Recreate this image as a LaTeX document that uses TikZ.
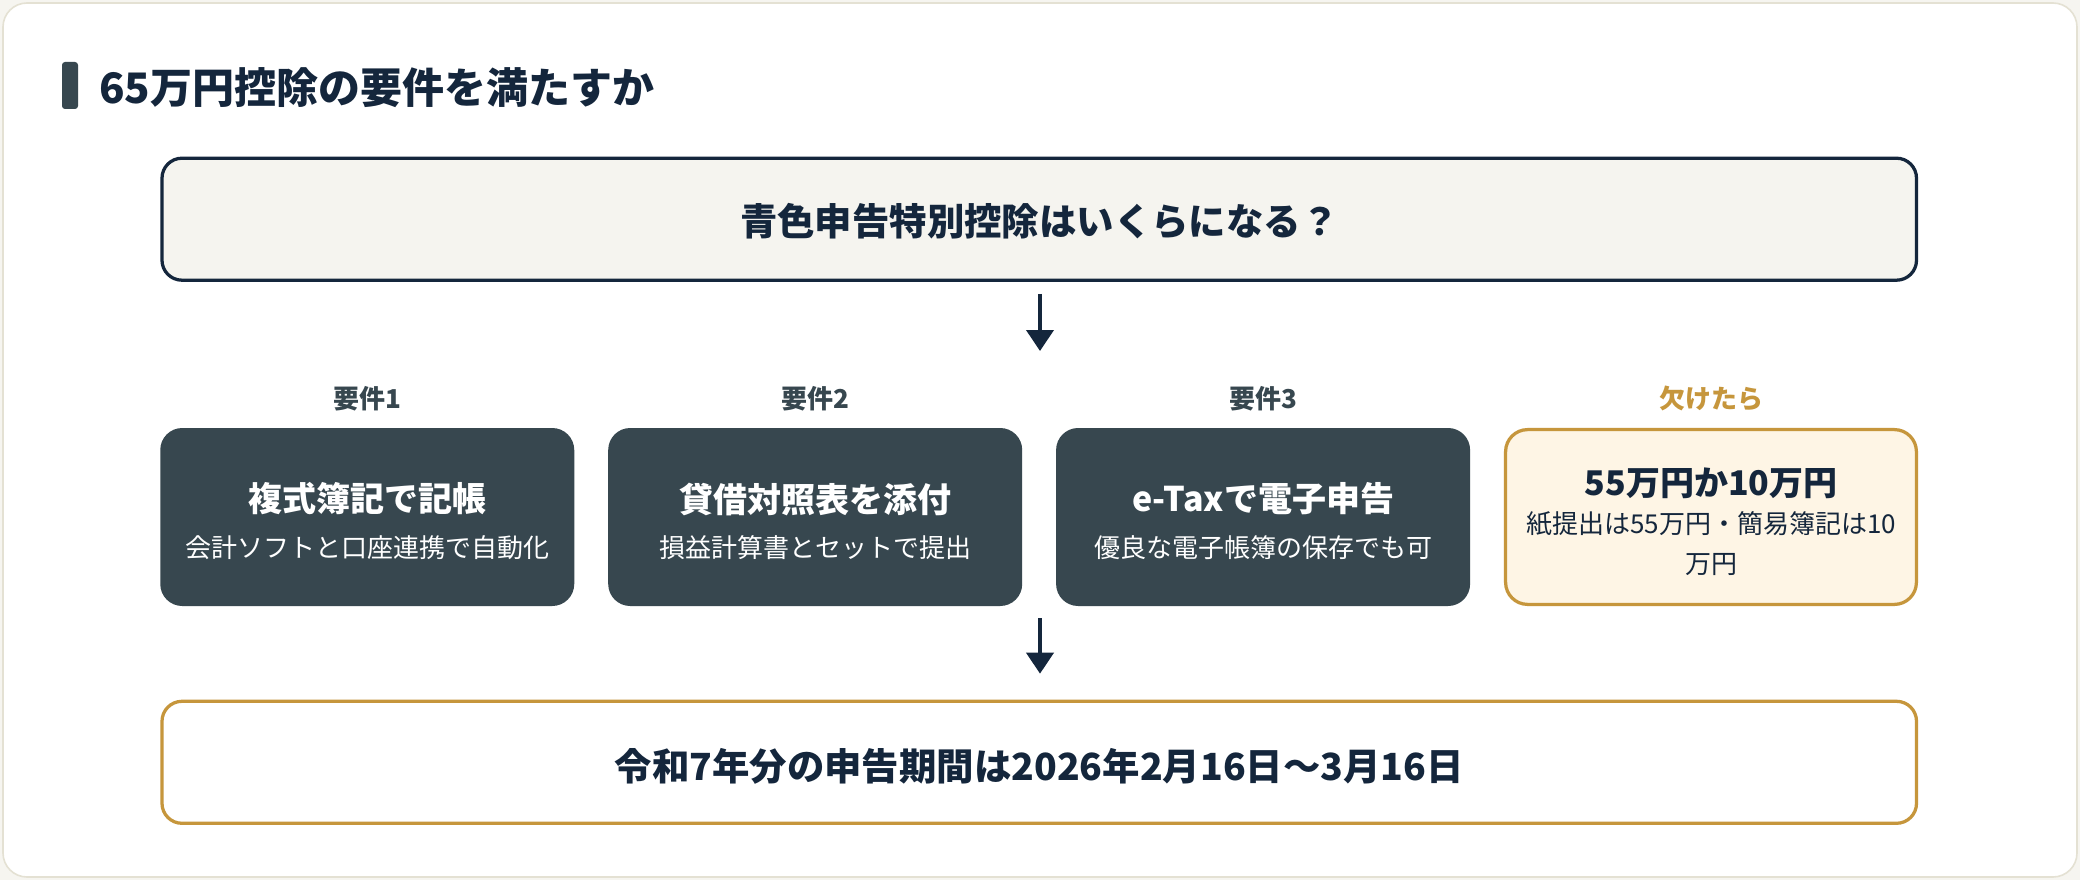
\documentclass[tikz,border=0pt]{standalone}
\usepackage{fontspec}
\setmainfont{Noto Sans CJK JP}
\usetikzlibrary{arrows.meta}
\definecolor{navy}{HTML}{14263C}
\definecolor{slate}{HTML}{37474F}
\definecolor{gold}{HTML}{C6963C}
\definecolor{cream}{HTML}{FEF5E5}
\definecolor{paper}{HTML}{F5F4EF}
\definecolor{cardline}{HTML}{E4E1D3}
\definecolor{pagebg}{HTML}{F6F5F0}
\begin{document}
\begin{tikzpicture}[x=1pt,y=-1pt,
  widebox/.style={line width=3.25pt, rounded corners=20pt, minimum width=1754.5pt, minimum height=122pt, inner sep=0pt},
  darkbox/.style={fill=slate, rounded corners=22pt, minimum width=414pt, minimum height=178pt, inner sep=0pt},
  missbox/.style={draw=gold, fill=cream, line width=3.25pt, rounded corners=22pt, minimum width=410.8pt, minimum height=174.8pt, inner sep=0pt},
  reqlabel/.style={font=\fontsize{26}{30}\selectfont\bfseries, text=slate, inner sep=0pt},
  boxtitle/.style={font=\fontsize{34}{40}\selectfont\bfseries, text=white, inner sep=0pt},
  boxsub/.style={font=\fontsize{26}{30}\selectfont, text=white, inner sep=0pt},
  bigtext/.style={font=\fontsize{37.4}{44}\selectfont\bfseries, text=navy, inner sep=0pt},
  arr/.style={draw=navy, line width=4pt, -{Triangle[width=27pt,length=21pt]}}
]
\useasboundingbox (0,0) rectangle (2080,880);
\fill[pagebg] (0,0) rectangle (2080,880);
\draw[cardline, fill=white, line width=1.6pt, rounded corners=24pt] (3,3) rectangle (2077,877);

% heading
\fill[slate, rounded corners=3pt] (62,62) rectangle (78,109);
\node[anchor=west, inner sep=0pt, font=\fontsize{42}{48}\selectfont\bfseries, text=navy] (head) at (99,87.5) {65万円控除の要件を満たすか};

% question
\node[widebox, draw=navy, fill=paper] (q) at (1039.25,219.2) {};
\node[bigtext] (qt) at (1039.25,221.5) {青色申告特別控除はいくらになる？};

\coordinate (a1end) at (1040,351);
\draw[arr, shorten <=12pt] (q.south -| a1end) -- (a1end);

% labels
\node[reqlabel] (l1) at (367.25,399) {要件1};
\node[reqlabel] (l2) at (815.2,399) {要件2};
\node[reqlabel] (l3) at (1263.1,399) {要件3};
\node[reqlabel, text=gold] (l4) at (1711,399) {欠けたら};

% requirement boxes
\node[darkbox] (r1) at (367.25,517) {};
\node[boxtitle] (r1t) at (367.25,499) {複式簿記で記帳};
\node[boxsub] (r1s) at (367.25,548) {会計ソフトと口座連携で自動化};

\node[darkbox] (r2) at (815.2,517) {};
\node[boxtitle] (r2t) at (815.2,499) {貸借対照表を添付};
\node[boxsub] (r2s) at (815.2,548) {損益計算書とセットで提出};

\node[darkbox] (r3) at (1263.1,517) {};
\node[boxtitle] (r3t) at (1263.1,499) {e-Taxで電子申告};
\node[boxsub] (r3s) at (1263.1,548) {優良な電子帳簿の保存でも可};

\node[missbox] (r4) at (1711,517) {};
\node[boxtitle, text=navy] (r4t) at (1711,483) {55万円か10万円};
\node[boxsub, text=navy, align=center, font=\fontsize{26}{40}\selectfont] (r4s) at (1711,544) {紙提出は55万円・簡易簿記は10\\万円};

% result
\coordinate (a2start) at (1040,606);
\node[widebox, draw=gold, fill=white] (res) at (1039.25,762.3) {};
\node[bigtext] (rest) at (1039.25,766) {令和7年分の申告期間は2026年2月16日～3月16日};
\draw[arr, shorten <=12pt, shorten >=26pt] (a2start) -- (a2start |- res.north);
\end{tikzpicture}
\end{document}
